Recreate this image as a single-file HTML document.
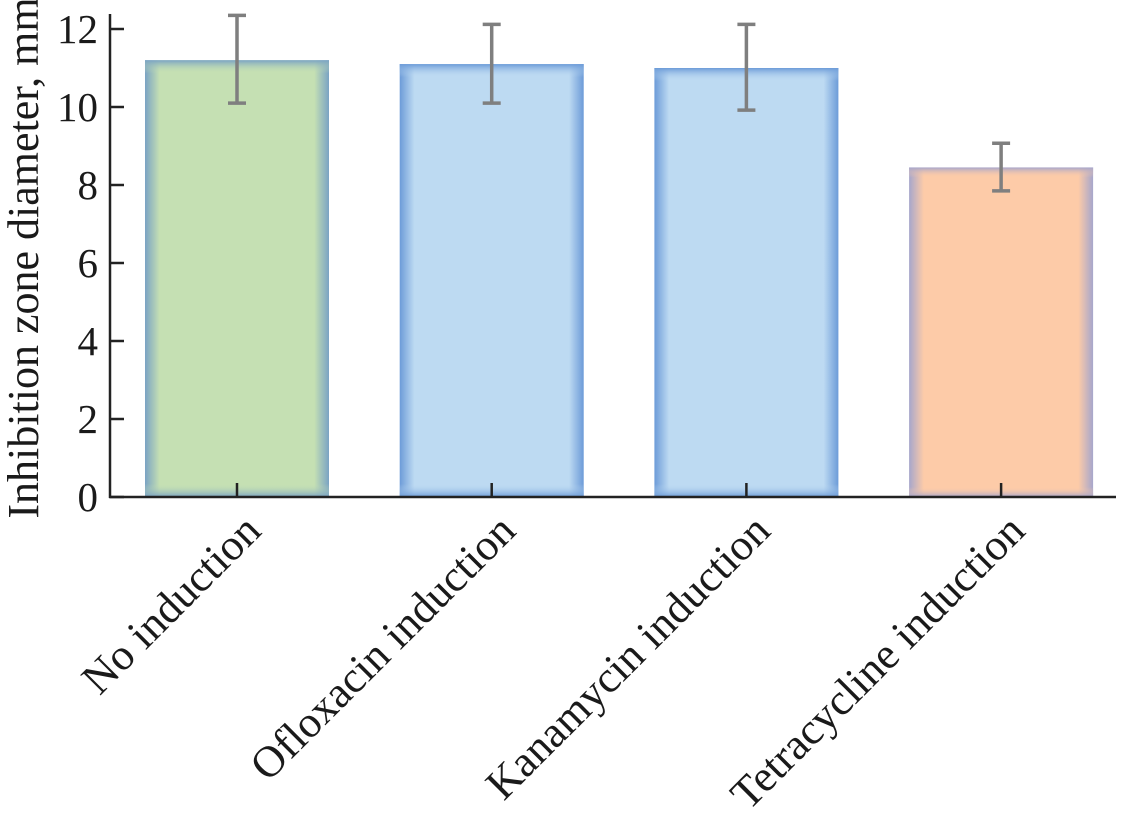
<!DOCTYPE html>
<html><head><meta charset="utf-8"><style>
body{margin:0;background:#fff}
svg{display:block;font-family:"Liberation Serif",serif}
</style></head><body>
<svg id="chart" width="1139" height="816" viewBox="0 0 1139 816">
<defs></defs>
<g id="plot"></g>
</svg>
<script>
const categories=["No induction","Ofloxacin induction","Kanamycin induction","Tetracycline induction"];
const values=[11.2,11.1,11.0,8.45];
const errLow=[10.1,10.1,9.92,7.85];
const errHigh=[12.35,12.12,12.12,9.07];
const yTicks=[0,2,4,6,8,10,12];
const fills=["#c5e0b3","#bddaf2","#bddaf2","#fdcba8"];
const edges=["#7aa3c4","#6c9bd8","#6c9bd8","#a6a6cc"];
const NS="http://www.w3.org/2000/svg";
const g=document.getElementById('plot');
const x0=110,y0=497,yTop=29,xEnd=1116;
const barW=184;
const y=v=>y0-(v/12)*(y0-yTop);
function el(t,a,p){const e=document.createElementNS(NS,t);for(const k in a)e.setAttribute(k,a[k]);(p||g).appendChild(e);return e;}
const defs=document.querySelector('defs');
categories.forEach((c,i)=>{
  const center=145+barW/2+i*254.7;
  const top=y(values[i]);
  const gr=el('linearGradient',{id:'gh'+i,x1:0,x2:1,y1:0,y2:0},defs);
  [[0,edges[i]],[0.08,fills[i]],[0.92,fills[i]],[1,edges[i]]].forEach(s=>el('stop',{offset:s[0],'stop-color':s[1]},gr));
  const gv=el('linearGradient',{id:'gv'+i,x1:0,x2:0,y1:0,y2:1},defs);
  [[0,edges[i],1],[0.03,fills[i],0],[0.97,fills[i],0],[1,edges[i],1]].forEach(s=>el('stop',{offset:s[0],'stop-color':s[1],'stop-opacity':s[2]},gv));
  const b=el('rect',{x:center-barW/2,y:top,width:barW,height:y0-top,fill:'url(#gh'+i+')'});
  
  
  el('rect',{x:center-barW/2,y:top,width:barW,height:y0-top,fill:'url(#gv'+i+')'});
  el('line',{x1:center,x2:center,y1:y0,y2:y0-14,stroke:'#222','stroke-width':2.5});
  const eg=el('g',{stroke:'#7f7f7f','stroke-width':3.5,fill:'none'});
  
  
  el('line',{x1:center,x2:center,y1:y(errHigh[i]),y2:y(errLow[i])},eg);
  el('line',{x1:center-9,x2:center+9,y1:y(errHigh[i]),y2:y(errHigh[i])},eg);
  el('line',{x1:center-9,x2:center+9,y1:y(errLow[i]),y2:y(errLow[i])},eg);
  const t=el('text',{x:0,y:0,'font-size':44,'text-anchor':'end',fill:'#1a1a1a',transform:`translate(${center+26},${y0+36}) rotate(-45)`});
  t.textContent=c;
  
  
});
el('line',{x1:x0,x2:x0,y1:14,y2:y0+1,stroke:'#222','stroke-width':2.5});
el('line',{x1:x0-1,x2:xEnd,y1:y0,y2:y0,stroke:'#222','stroke-width':2.5});
yTicks.forEach(v=>{
  el('line',{x1:x0,x2:x0+14,y1:y(v),y2:y(v),stroke:'#222','stroke-width':2.5});
  const t=el('text',{x:x0-12,y:y(v)+14,'font-size':41,'text-anchor':'end',fill:'#1a1a1a'});
  t.textContent=v;
  
  
});
const yt=el('text',{x:0,y:0,'font-size':44,'text-anchor':'middle',fill:'#1a1a1a',transform:'translate(38,258) rotate(-90)'});
yt.textContent='Inhibition zone diameter, mm';


</script>
</body></html>
